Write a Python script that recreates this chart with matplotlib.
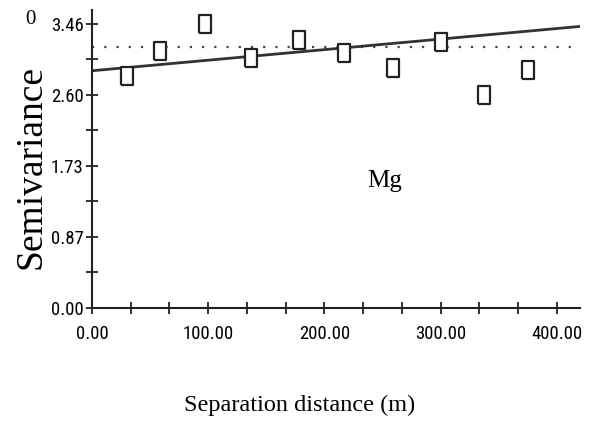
import numpy as np
import matplotlib
matplotlib.use("Agg")
import matplotlib.pyplot as plt
from matplotlib.ticker import MultipleLocator, FixedLocator
from matplotlib import font_manager

# semivariogram data
lag = [30, 58.5, 97, 136.5, 178, 217, 258.7, 300, 337, 375]
gamma = [2.83, 3.13, 3.46, 3.04, 3.26, 3.11, 2.92, 3.24, 2.59, 2.90]
sill = 3.18
model_x = [0, 420]
model_y = [2.89, 3.43]

y_ticks = [0.0, 0.865, 1.73, 2.595, 3.46]
y_labels = ["0.00", "0.87", "1.73", "2.60", "3.46"]
x_ticks = [0, 100, 200, 300, 400]
x_labels = ["0.00", "100.00", "200.00", "300.00", "400.00"]

# pick a narrow sans font if one is there
names = {f.name for f in font_manager.fontManager.ttflist}
tick_font = 'Liberation Sans'
tick_size = 11.5
for cand in ['Liberation Sans Narrow', 'DejaVu Sans Condensed', 'Roboto Condensed']:
    if cand in names:
        tick_font = cand
        tick_size = 13.5
        break
serif = ['Liberation Serif', 'DejaVu Serif']

W, H = 597, 430
fig = plt.figure(figsize=(W / 100, H / 100), dpi=100)
ax = fig.add_axes([92 / W, (H - 308) / H, (580 - 92) / W, (308 - 10) / H])

# model line and sill
ax.plot(model_x, model_y, color='#333333', lw=2, solid_capstyle='butt', zorder=2)
ax.plot([0, 420], [sill, sill], color='#444444', lw=1.6, linestyle=(0, (1, 4.5)), zorder=1)

# points as open tall rectangles
rect = [(-0.65, -1), (0.65, -1), (0.65, 1), (-0.65, 1), (-0.65, -1)]
ax.plot(lag, gamma, linestyle='none', marker=rect, markersize=12.5,
        markerfacecolor='white', markeredgecolor='#222222', markeredgewidth=1.6, zorder=3)

ax.set_xlim(0, 420)
ax.set_ylim(0, 3.63)

for s in ['top', 'right']:
    ax.spines[s].set_visible(False)
for s in ['left', 'bottom']:
    ax.spines[s].set_linewidth(1.5)
    ax.spines[s].set_color('#222222')

ax.set_yticks(y_ticks)
ax.set_yticklabels(y_labels, family=tick_font, fontsize=tick_size)
ax.yaxis.set_minor_locator(FixedLocator([0.4325, 1.2975, 2.1625, 3.0275]))
ax.set_xticks(x_ticks)
ax.set_xticklabels(x_labels, family=tick_font, fontsize=tick_size)
ax.xaxis.set_minor_locator(MultipleLocator(100 / 3))
ax.tick_params(which='both', direction='inout', length=8, width=1.3, color='#222222')
ax.tick_params(axis='x', which='major', pad=8)
ax.tick_params(axis='y', which='major', pad=2)

fig.text(31 / W, 1 - 167 / H, "Semivariance", rotation=90, family=serif,
         fontsize=27, ha='center', va='center')
fig.text(300 / W, 1 - 405 / H, "Separation distance (m)", family=serif,
         fontsize=17.5, ha='center', va='center')
fig.text(385 / W, 1 - 181 / H, "Mg", family=serif, fontsize=18, ha='center', va='center')
fig.text(30 / W, 1 - 20 / H, "0", family=serif, fontsize=15, ha='center', va='center')

fig.savefig("out.png", dpi=100)
